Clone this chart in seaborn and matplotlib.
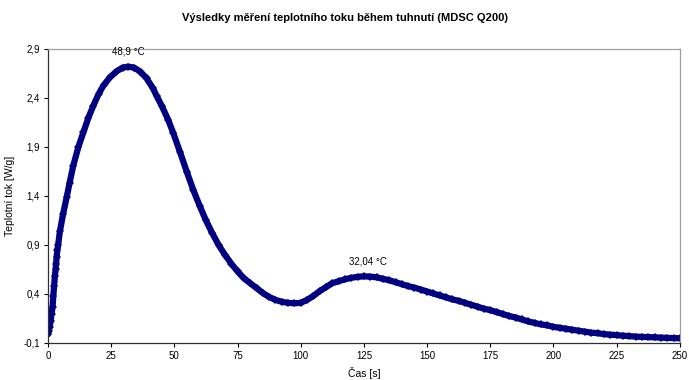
import numpy as np
import pandas as pd
import seaborn as sns
from matplotlib import pyplot as plt
from matplotlib.ticker import FuncFormatter

# odečtené hodnoty: čas [s] a tepelný tok [W/g]
cas = [0, 0.3, 0.6, 1.0, 1.4, 1.8, 2.1, 2.4, 2.7, 3.0, 3.2, 3.4, 3.7, 4.0,
       4.7, 6, 7.4, 8.5, 10, 12, 14, 16, 17.9, 20, 22, 24.5, 27, 29.5, 31.8,
       34, 36.5, 39, 41.5, 43, 45, 47.5, 49.6, 52.2, 55, 57.5, 60, 62.5, 65,
       67.5, 70, 72.5, 75, 77.5, 80, 82.5, 85, 87.5, 90, 92.5, 95, 97.5, 100,
       102.5, 105, 107.5, 110, 112.5, 115, 117.5, 120, 122.5, 125, 127.5, 130,
       132.5, 135, 137.5, 140, 142.5, 145, 147.5, 150, 152.5, 155, 157.5, 160,
       162.5, 165, 167.5, 170, 172.5, 175, 177.5, 180, 182.5, 185, 187.5, 190,
       192.5, 195, 197.5, 200, 202.5, 205, 207.5, 210, 212.5, 215, 217.5, 220,
       222.5, 225, 227.5, 230, 232.5, 235, 237.5, 240, 242.5, 245, 247.5, 250]
tok = [-0.01, 0.02, 0.06, 0.12, 0.2, 0.27, 0.38, 0.48, 0.58, 0.65, 0.71, 0.78,
       0.85, 0.9, 1.04, 1.22, 1.39, 1.53, 1.71, 1.9, 2.05, 2.2, 2.32, 2.44,
       2.53, 2.61, 2.67, 2.71, 2.72, 2.71, 2.67, 2.6, 2.5, 2.42, 2.32, 2.18,
       2.04, 1.85, 1.64, 1.46, 1.3, 1.15, 1.02, 0.9, 0.8, 0.71, 0.63, 0.56,
       0.51, 0.46, 0.41, 0.37, 0.34, 0.32, 0.31, 0.305, 0.31, 0.34, 0.38, 0.43,
       0.47, 0.51, 0.53, 0.55, 0.565, 0.575, 0.58, 0.577, 0.57, 0.555, 0.54,
       0.52, 0.5, 0.48, 0.465, 0.445, 0.425, 0.405, 0.385, 0.365, 0.345, 0.33,
       0.31, 0.29, 0.27, 0.25, 0.235, 0.215, 0.195, 0.175, 0.16, 0.14, 0.12,
       0.105, 0.09, 0.08, 0.065, 0.055, 0.045, 0.035, 0.025, 0.015, 0.005, 0.0,
       -0.01, -0.015, -0.02, -0.025, -0.03, -0.035, -0.038, -0.04, -0.043,
       -0.045, -0.048, -0.05, -0.052]

popisky = ["48,9 °C", "32,04 °C"]
popisky_x = [31.8, 126.5]
popisky_y = [2.72, 0.58]

x_ticks = list(range(0, 251, 25))
y_ticks = [-0.1, 0.4, 0.9, 1.4, 1.9, 2.4, 2.9]

sns.set_style("white")
plt.rcParams['font.family'] = ['Liberation Sans', 'DejaVu Sans']
plt.rcParams['text.color'] = 'black'
plt.rcParams['axes.labelcolor'] = 'black'
plt.rcParams['xtick.color'] = 'black'
plt.rcParams['ytick.color'] = 'black'

df = pd.DataFrame({"cas": cas, "tok": tok})

fig = plt.figure(figsize=(6.89, 3.80), dpi=100)
ax = fig.add_axes([0.0697, 0.0974, 0.917, 0.7737])

sns.lineplot(data=df, x="cas", y="tok", ax=ax, color="#000080", linewidth=4.5,
             marker="D", markersize=4, markeredgewidth=0, sort=False)

ax.set_xlim(0, 250)
ax.set_ylim(-0.1, 2.9)
ax.set_xticks(x_ticks)
ax.set_yticks(y_ticks)
ax.yaxis.set_major_formatter(FuncFormatter(lambda v, p: f"{v:.1f}".replace(".", ",")))
ax.tick_params(axis="both", labelsize=7, length=3, width=0.8, direction="out",
               left=True, bottom=True, pad=3)

for s in ["left", "bottom"]:
    ax.spines[s].set_color("#303030")
    ax.spines[s].set_linewidth(0.9)
for s in ["top", "right"]:
    ax.spines[s].set_color("#a0a0a0")
    ax.spines[s].set_linewidth(0.9)

for txt, px, py in zip(popisky, popisky_x, popisky_y):
    ax.annotate(txt, (px, py), xytext=(0, 7), textcoords="offset points",
                ha="center", va="bottom", fontsize=7)

ax.set_xlabel("Čas [s]", fontsize=7.5, labelpad=4)
ax.set_ylabel("Teplotní tok [W/g]", fontsize=7.5, labelpad=6)
fig.suptitle("Výsledky měření teplotního toku během tuhnutí (MDSC Q200)",
             fontsize=8, fontweight="bold", x=0.5, y=0.965)

fig.savefig("out.png", dpi=100)
